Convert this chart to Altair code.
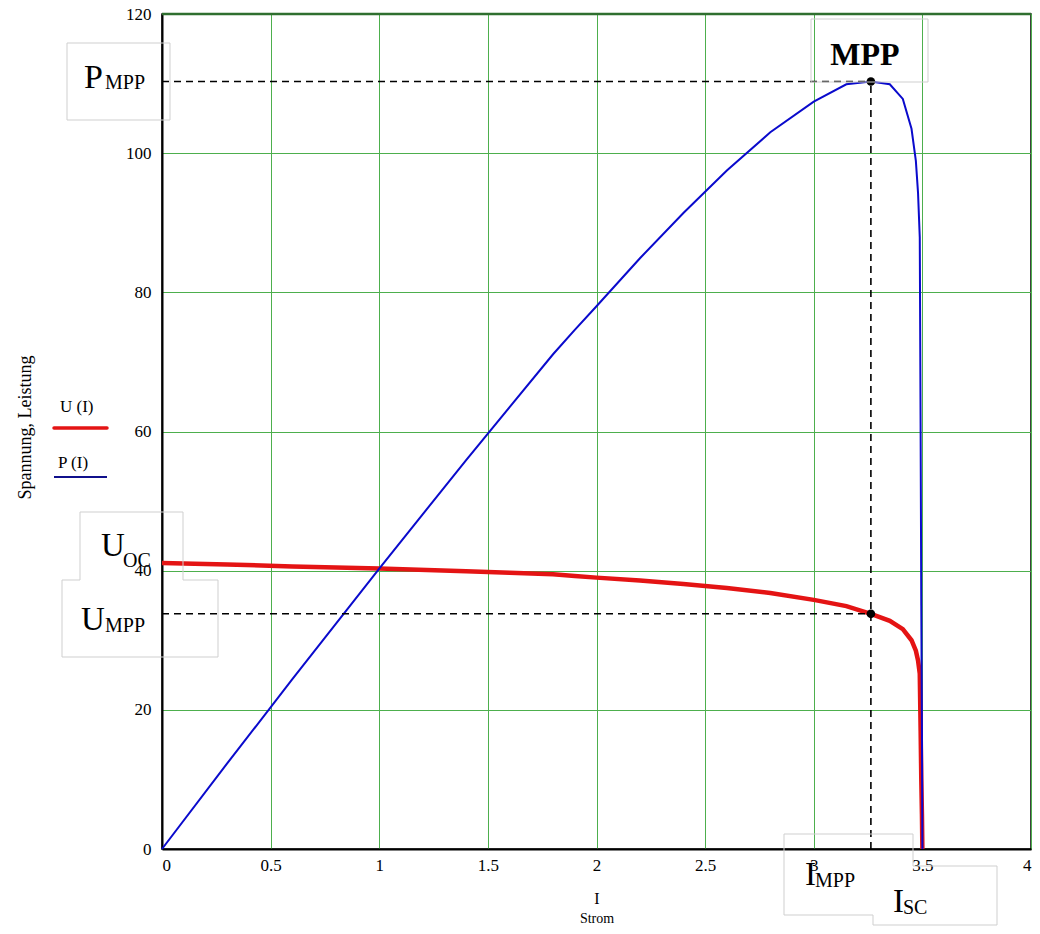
import altair as alt
import pandas as pd

# ---- data ----
I_vals = [0.0, 0.3, 0.6, 1.0, 1.4, 1.6, 1.8, 1.9, 2.0, 2.2, 2.4, 2.6, 2.8, 3.0, 3.15, 3.263,
          3.35, 3.41, 3.45, 3.47, 3.48, 3.488, 3.492, 3.495, 3.498, 3.5]
U_vals = [41.1, 40.9, 40.6, 40.3, 39.9, 39.7, 39.5, 39.25, 39.0, 38.6, 38.1, 37.5, 36.8, 35.8,
          34.9, 33.8, 32.8, 31.6, 30.0, 28.5, 27.1, 25.2, 17.0, 10.0, 5.0, 0.0]
P_vals = [0.0, 12.3, 24.4, 40.3, 55.9, 63.5, 71.1, 74.6, 78.0, 84.9, 91.4, 97.5, 103.0, 107.4,
          109.9, 110.3, 109.9, 107.8, 103.5, 98.9, 94.3, 87.9, 59.4, 35.0, 17.5, 0.0]
I_MPP = 3.263
U_MPP = 33.8
P_MPP = 110.3
x_ticks = [0, 0.5, 1, 1.5, 2, 2.5, 3, 3.5, 4]
y_ticks = [0, 20, 40, 60, 80, 100, 120]

FONT = "Liberation Serif"
RED = "#E41414"
BLUE = "#0A0ACC"
GRID = "#4DAF4D"
BOXC = "#CFCFCF"

# plot-area origin on the page (page margin 8 + padding)
PAD_L, PAD_T = 154, 6
OX, OY = 8 + PAD_L, 8 + PAD_T

df = pd.DataFrame({"I": I_vals, "U": U_vals, "P": P_vals})

xs = alt.Scale(domain=[0, 4], nice=False, zero=False)
ys = alt.Scale(domain=[0, 120], nice=False, zero=False)

xaxis = alt.Axis(values=x_ticks, format="~g", grid=True, gridColor=GRID, gridWidth=1,
                 ticks=False, domainColor="black", domainWidth=2, labelFont=FONT,
                 labelFontSize=17, labelColor="black", labelPadding=8, title=None,
                 labelFlush=True)
yaxis = alt.Axis(values=y_ticks, grid=True, gridColor=GRID, gridWidth=1, ticks=False,
                 domainColor="black", domainWidth=2, labelFont=FONT, labelFontSize=17,
                 labelColor="black", labelPadding=11, title="Spannung, Leistung",
                 titleFont=FONT, titleFontSize=18, titleFontWeight="normal",
                 titleColor="black", titleAngle=-90, titleX=25 - OX, titleY=427 - OY,
                 titleAlign="center", titleBaseline="middle", labelFlush=False)


def X(f):
    return alt.X(f, scale=xs, axis=xaxis)


def Y(f):
    return alt.Y(f, scale=ys, axis=yaxis)


red = alt.Chart(df).mark_line(color=RED, strokeWidth=4.5).encode(
    x=X("I:Q"), y=Y("U:Q"), order="I:Q",
)
blue = alt.Chart(df).mark_line(color=BLUE, strokeWidth=2).encode(
    x=X("I:Q"), y=Y("P:Q"), order="I:Q",
)

dash_df = pd.DataFrame({
    "x": [0, 0, I_MPP],
    "x2": [I_MPP, I_MPP, I_MPP],
    "y": [P_MPP, U_MPP, 0],
    "y2": [P_MPP, U_MPP, P_MPP],
})
dashes = alt.Chart(dash_df).mark_rule(color="black", strokeWidth=1.6, strokeDash=[7, 5]).encode(
    x=X("x:Q"), x2="x2:Q", y=Y("y:Q"), y2="y2:Q",
)

pts_df = pd.DataFrame({"I": [I_MPP, I_MPP], "v": [U_MPP, P_MPP]})
pts = alt.Chart(pts_df).mark_circle(color="black", size=75, opacity=1).encode(
    x=X("I:Q"), y=Y("v:Q"),
)

top_df = pd.DataFrame({"x": [0], "x2": [4], "y": [120]})
top_border = alt.Chart(top_df).mark_rule(color="#2F6F2F", strokeWidth=2.5).encode(
    x=X("x:Q"), x2="x2:Q", y=Y("y:Q")
)

# ---- decorative annotation boxes (page pixel layout) ----
segs = [
    # P_MPP box
    (67, 170, 43, 43), (67, 170, 120, 120), (67, 67, 43, 120), (170, 170, 43, 120),
    # MPP box
    (811, 928, 19, 19), (811, 928, 82, 82), (811, 811, 19, 82), (928, 928, 19, 82),
    # U_OC / U_MPP union
    (80, 80, 512, 580), (80, 183, 512, 512), (183, 183, 512, 580),
    (62, 80, 580, 580), (183, 218, 580, 580), (62, 62, 580, 657),
    (62, 218, 657, 657), (218, 218, 580, 657),
    # I_MPP / I_SC union
    (784, 913, 834, 834), (784, 784, 834, 915), (784, 873, 915, 915), (913, 913, 834, 866),
    (913, 997, 866, 866), (997, 997, 866, 925), (873, 997, 925, 925), (873, 873, 915, 925),
]
one = pd.DataFrame({"a": [0]})
boxes = [
    alt.Chart(one).mark_rule(color=BOXC, strokeWidth=1).encode(
        x=alt.value(a - OX), x2=alt.value(b - OX), y=alt.value(c - OY), y2=alt.value(d - OY)
    )
    for a, b, c, d in segs
]


def txt(s, x, y, size, align="left", weight="normal", color="black"):
    return alt.Chart(pd.DataFrame({"t": [s]})).mark_text(
        font=FONT, fontSize=size, fontWeight=weight, align=align, baseline="alphabetic",
        color=color,
    ).encode(text="t:N", x=alt.value(x - OX), y=alt.value(y - OY))


labels = [
    txt("P", 84, 88, 34), txt("MPP", 105, 89, 20),
    txt("MPP", 865, 65, 32, align="center", weight="bold"),
    txt("U", 101, 556, 33), txt("OC", 123, 567, 20),
    txt("U", 81, 630, 33), txt("MPP", 105, 632, 20),
    txt("I", 805, 885, 33), txt("MPP", 815, 887, 20),
    txt("I", 893, 912, 33), txt("SC", 903, 914, 20),
    txt("I", 597, 904, 16, align="center"), txt("Strom", 597, 923, 14, align="center"),
    txt("U (I)", 60, 412, 17), txt("P (I)", 58, 468, 17),
]

leg_red = alt.Chart(one).mark_rule(color=RED, strokeWidth=3.5, strokeCap="round").encode(
    x=alt.value(54 - OX), x2=alt.value(107 - OX), y=alt.value(428 - OY)
)
leg_blue = alt.Chart(one).mark_rule(color="#10108C", strokeWidth=2).encode(
    x=alt.value(54 - OX), x2=alt.value(107 - OX), y=alt.value(477 - OY)
)

chart = alt.layer(
    red, blue, dashes, pts, top_border, *boxes, leg_red, leg_blue, *labels
).properties(
    width=869, height=835,
    autosize=alt.AutoSizeParams(type="none"),
    padding={"left": PAD_L, "top": PAD_T, "right": 1, "bottom": 77},
).configure_view(stroke="black", strokeWidth=1.5)

chart.save("out.html", embed_options={"renderer": "svg", "actions": False})
